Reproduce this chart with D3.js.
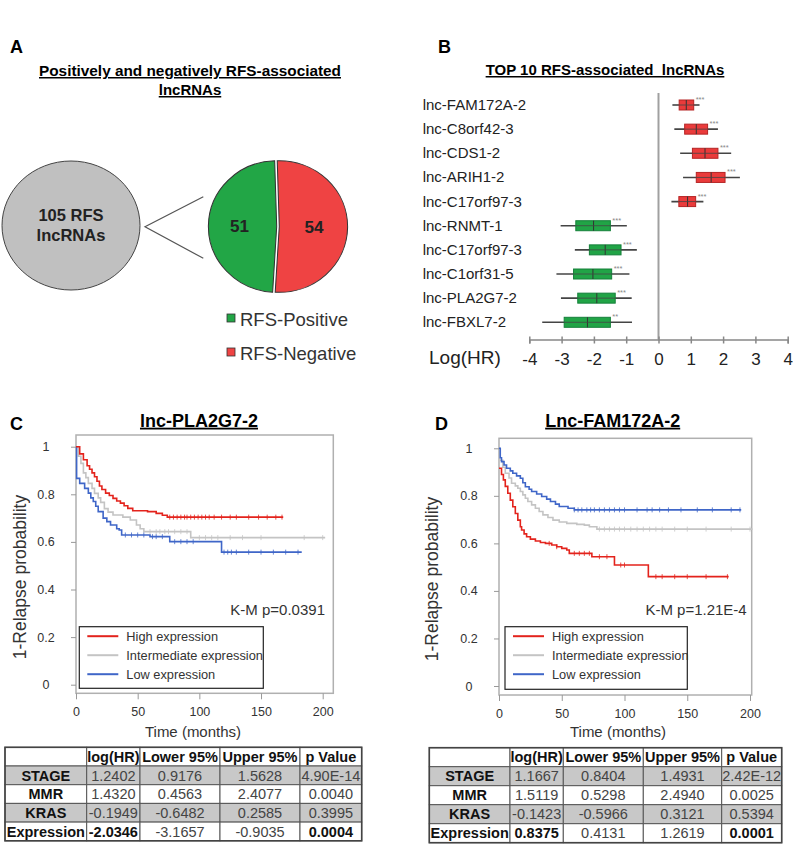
<!DOCTYPE html>
<html>
<head>
<meta charset="utf-8">
<script src="https://cdn.jsdelivr.net/npm/d3@7"></script>
<style>
  body { margin: 0; background: #fff; }
  svg { font-family: "Liberation Sans", Arial, sans-serif; }
</style>
</head>
<body>
<script>
// ---- panel A data
const pieLabels = ["RFS-Negative", "RFS-Positive"];
const pieValues = [54, 51];
const pieColors = ["#ef4343", "#22a646"];
const totalLabel = ["105 RFS", "lncRNAs"];

// ---- panel B data (log HR box summaries)
const bNames = ["lnc-FAM172A-2", "lnc-C8orf42-3", "lnc-CDS1-2", "lnc-ARIH1-2", "lnc-C17orf97-3",
                "lnc-RNMT-1", "lnc-C17orf97-3", "lnc-C1orf31-5", "lnc-PLA2G7-2", "lnc-FBXL7-2"];
const bMedian  = [0.86, 1.17, 1.44, 1.63, 0.90, -2.01, -1.65, -2.03, -1.91, -2.20];
const bBoxLo   = [0.64, 0.81, 1.05, 1.17, 0.63, -2.56, -2.14, -2.63, -2.50, -2.92];
const bBoxHi   = [1.09, 1.52, 1.84, 2.06, 1.15, -1.49, -1.16, -1.45, -1.34, -1.49];
const bWhiskLo = [0.43, 0.49, 0.67, 0.76, 0.40, -3.03, -2.59, -3.16, -3.02, -3.60];
const bWhiskHi = [1.27, 1.84, 2.25, 2.52, 1.39, -0.98, -0.67, -0.90, -0.83, -0.82];
const bStars   = ["***", "***", "***", "***", "***", "***", "***", "***", "***", "**"];
const bTicks   = [-4, -3, -2, -1, 0, 1, 2, 3, 4];

// ---- panel C / D Kaplan-Meier steps: [months, probability]
const kmTicksX = [0, 50, 100, 150, 200];
const kmTicksY = [0, 0.2, 0.4, 0.6, 0.8, 1];
const seriesNames = ["High expression", "Intermediate expression", "Low expression"];
const seriesColors = ["#e3231c", "#c4c4c4", "#3f66c8"];

const cHigh = [[0,1],[3,0.97],[6,0.945],[9,0.92],[11,0.905],[13,0.89],[15,0.874],[17,0.855],[19,0.835],[21,0.82],[24,0.805],[27,0.795],[30,0.783],[33,0.772],[36,0.763],[39,0.752],[42,0.741],[46,0.731],[58,0.727],[65,0.72],[70,0.712],[74,0.704]];
const cMid  = [[0,1],[2,0.96],[4,0.93],[6,0.89],[8,0.87],[10,0.846],[13,0.825],[15,0.804],[18,0.785],[20,0.766],[23,0.74],[26,0.725],[30,0.713],[38,0.704],[44,0.692],[49,0.671],[52,0.655],[55,0.643],[93,0.618]];
const cLow  = [[0,1],[0.5,0.867],[3,0.846],[7,0.825],[10,0.805],[12,0.785],[14,0.77],[16,0.75],[18,0.727],[22,0.70],[25,0.685],[28,0.671],[33,0.655],[35,0.65],[37,0.629],[60,0.622],[76,0.601],[118,0.557]];
const cEnd  = [168, 202, 183];
const cCensHigh = [76,79,82,85,88,90,93,96,99,102,105,108,112,118,125,130,140,148,155,162,167];
const cCensMid  = [60,65,68,72,75,80,85,90,100,105,110,115,125,135,150,185,200];
const cCensLow  = [40,45,50,55,62,65,70,80,85,90,95,120,123,126,130,140,150,160,170,180];

const dHigh = [[0,0.916],[2,0.89],[3.5,0.867],[5,0.84],[7,0.811],[9,0.782],[11,0.754],[13,0.726],[15,0.698],[17,0.67],[18,0.656],[20,0.64],[22,0.628],[25,0.618],[29,0.61],[33,0.604],[37,0.6],[42,0.593],[46,0.586],[50,0.579],[54,0.572],[56,0.558],[74,0.544],[92,0.509],[119,0.46]];
const dMid  = [[0,0.95],[3,0.92],[5,0.895],[8,0.875],[10,0.853],[13,0.842],[15,0.832],[17,0.818],[19,0.804],[21,0.79],[23,0.776],[26,0.762],[29,0.748],[32,0.734],[35,0.72],[39,0.709],[43,0.698],[48,0.69],[54,0.684],[62,0.68],[68,0.677],[72,0.67],[78,0.66]];
const dLow  = [[0,1],[1,0.96],[2,0.944],[4,0.93],[6,0.916],[9,0.905],[11,0.895],[14,0.884],[17,0.874],[19,0.855],[21,0.838],[24,0.828],[26,0.818],[30,0.808],[34,0.797],[38,0.786],[41,0.776],[45,0.765],[48,0.755],[55,0.748],[60,0.741]];
const dEnd  = [183, 202, 193];
const dCensHigh = [40,46,60,64,68,72,80,86,97,100,125,130,140,150,165,182];
const dCensMid  = [80,84,88,92,96,100,105,110,115,120,125,130,140,150,165,185,200];
const dCensLow  = [60,63,66,70,73,76,80,84,88,92,96,100,110,118,122,128,135,145,158,170,185,192];

// ---- tables
const tableHeader = ["", "log(HR)", "Lower 95%", "Upper 95%", "p Value"];
const tableRows = ["STAGE", "MMR", "KRAS", "Expression"];
const tableC = [["1.2402","0.9176","1.5628","4.90E-14"],
                ["1.4320","0.4563","2.4077","0.0040"],
                ["-0.1949","-0.6482","0.2585","0.3995"],
                ["-2.0346","-3.1657","-0.9035","0.0004"]];
const tableD = [["1.1667","0.8404","1.4931","2.42E-12"],
                ["1.5119","0.5298","2.4940","0.0025"],
                ["-0.1423","-0.5966","0.3121","0.5394"],
                ["0.8375","0.4131","1.2619","0.0001"]];

const svg = d3.select("body").append("svg")
    .attr("width", 793).attr("height", 849);

// panel letters
[["A", 10, 53], ["B", 438, 53], ["C", 10, 430], ["D", 435, 430]].forEach(function(l) {
    svg.append("text").attr("x", l[1]).attr("y", l[2]).text(l[0])
        .attr("font-size", 18).attr("font-weight", "bold");
});

// ================= Panel A =================
const gA = svg.append("g");
gA.append("text").attr("x", 190).attr("y", 76).attr("text-anchor", "middle")
    .attr("font-size", 15).attr("font-weight", "bold").attr("text-decoration", "underline")
    .attr("textLength", 302).attr("lengthAdjust", "spacingAndGlyphs")
    .text("Positively and negatively RFS-associated");
gA.append("text").attr("x", 190).attr("y", 95).attr("text-anchor", "middle")
    .attr("font-size", 15).attr("font-weight", "bold").attr("text-decoration", "underline")
    .text("lncRNAs");

gA.append("ellipse").attr("cx", 71).attr("cy", 225.5).attr("rx", 69).attr("ry", 64.5)
    .attr("fill", "#c0c0c0").attr("stroke", "#444").attr("stroke-width", 1);
totalLabel.forEach(function(t, i) {
    gA.append("text").attr("x", 71).attr("y", 221 + i * 20).attr("text-anchor", "middle")
        .attr("font-size", 16.5).attr("font-weight", "bold").attr("fill", "#222").text(t);
});
gA.append("path").attr("d", "M203.3,196.7L145,226.7L203.3,258.3")
    .attr("fill", "none").attr("stroke", "#555").attr("stroke-width", 1.2);

const pieR = 66;
const gPie = gA.append("g").attr("transform", "translate(276.7,226.5) scale(1.035,0.997)");
const pie = d3.pie().sort(null).startAngle(-0.03).endAngle(2 * Math.PI - 0.03);
const arc = d3.arc().innerRadius(0).outerRadius(pieR);
const labelArc = d3.arc().innerRadius(36).outerRadius(36);
const arcs = pie(pieValues);
gPie.selectAll("path.slice").data(arcs).join("path")
    .attr("class", "slice")
    .attr("d", arc)
    .attr("transform", function(d, i) {
        if (i !== 0) return null;
        const c = arc.centroid(d), len = Math.hypot(c[0], c[1]);
        return "translate(" + (c[0] / len * 2.5) + "," + (c[1] / len * 2.5) + ")";
    })
    .attr("fill", function(d, i) { return pieColors[i]; })
    .attr("stroke", "#333").attr("stroke-width", 1);
gPie.selectAll("text.val").data(arcs).join("text")
    .attr("class", "val")
    .attr("x", function(d) { return labelArc.centroid(d)[0]; })
    .attr("y", function(d) { return labelArc.centroid(d)[1]; })
    .attr("dy", "0.35em").attr("text-anchor", "middle")
    .attr("font-size", 16.5).attr("font-weight", "bold").attr("fill", "#222")
    .text(function(d) { return d.data; });

// legend (positive first)
[1, 0].forEach(function(idx, k) {
    const y = 318 + k * 34;
    gA.append("rect").attr("x", 227).attr("y", y - 4).attr("width", 8).attr("height", 8)
        .attr("fill", pieColors[idx]).attr("stroke", "#333").attr("stroke-width", 0.8);
    gA.append("text").attr("x", 240).attr("y", y + 8).attr("font-size", 18.5).attr("fill", "#333")
        .text(pieLabels[idx]);
});

// ================= Panel B =================
const gB = svg.append("g");
gB.append("text").attr("x", 605).attr("y", 75).attr("text-anchor", "middle")
    .attr("font-size", 15).attr("font-weight", "bold").attr("text-decoration", "underline")
    .attr("xml:space", "preserve")
    .text("TOP 10 RFS-associated  lncRNAs");

const xB = d3.scaleLinear().domain([-4, 4]).range([529.3, 787.7]);
const yB = d3.scalePoint().domain(d3.range(bNames.length)).range([105, 322.3]);
const axisY = 339.5;

gB.append("line").attr("x1", xB(0)).attr("x2", xB(0)).attr("y1", 93).attr("y2", axisY)
    .attr("stroke", "#a0a0a0").attr("stroke-width", 2);

const gAx = gB.append("g").attr("transform", "translate(0," + axisY + ")")
    .call(d3.axisBottom(xB).tickValues(bTicks).tickSize(4).tickFormat(d3.format("d")));
gAx.select(".domain").attr("stroke", "#888").attr("stroke-width", 1.5);
gAx.selectAll(".tick line").attr("y1", -3).attr("stroke", "#888").attr("stroke-width", 1.5);
gAx.selectAll(".tick text").attr("y", 25).attr("dy", 0).attr("font-size", 17)
    .attr("font-family", "Liberation Sans, Arial, sans-serif").attr("fill", "#222")
    .text(function(d) { return d < 0 ? "-" + Math.abs(d) : d; });
gB.append("text").attr("x", 429).attr("y", 364).attr("font-size", 19).attr("fill", "#222").text("Log(HR)");

const rows = gB.selectAll("g.row").data(d3.range(bNames.length)).join("g").attr("class", "row");
rows.append("text").attr("x", 422.7).attr("y", function(i) { return yB(i) + 5; })
    .attr("font-size", 15).attr("fill", "#222").text(function(i) { return bNames[i]; });
rows.append("line")
    .attr("x1", function(i) { return xB(bWhiskLo[i]); })
    .attr("x2", function(i) { return xB(bWhiskHi[i]); })
    .attr("y1", function(i) { return yB(i); }).attr("y2", function(i) { return yB(i); })
    .attr("stroke", "#444").attr("stroke-width", 1.6);
rows.append("rect")
    .attr("x", function(i) { return xB(bBoxLo[i]); })
    .attr("width", function(i) { return xB(bBoxHi[i]) - xB(bBoxLo[i]); })
    .attr("y", function(i) { return yB(i) - 5; }).attr("height", 10)
    .attr("fill", function(i) { return bMedian[i] > 0 ? "#ea3b3b" : "#21a446"; })
    .attr("stroke", function(i) { return bMedian[i] > 0 ? "#b52424" : "#15803a"; })
    .attr("stroke-width", 1);
rows.append("line")
    .attr("x1", function(i) { return xB(bMedian[i]); }).attr("x2", function(i) { return xB(bMedian[i]); })
    .attr("y1", function(i) { return yB(i) - 5; }).attr("y2", function(i) { return yB(i) + 5; })
    .attr("stroke", "#333").attr("stroke-width", 1);
rows.append("line")
    .attr("x1", function(i) { return xB(bBoxLo[i]); }).attr("x2", function(i) { return xB(bBoxHi[i]); })
    .attr("y1", function(i) { return yB(i); }).attr("y2", function(i) { return yB(i); })
    .attr("stroke", "#444").attr("stroke-width", 0.8);
rows.append("text")
    .attr("x", function(i) { return xB(bBoxHi[i]) + 2; })
    .attr("y", function(i) { return yB(i) - 3; })
    .attr("font-size", 7.5).attr("fill", "#888").text(function(i) { return bStars[i]; });

// ================= Panels C, D (Kaplan-Meier) =================
function stepValue(steps, t) {
    let v = steps[0][1];
    steps.forEach(function(s) { if (s[0] <= t) v = s[1]; });
    return v;
}

function drawKM(o) {
    const g = svg.append("g");
    const x = d3.scaleLinear().domain([0, 200]).range(o.xr);
    const y = d3.scaleLinear().domain([0, 1]).range(o.yr);

    g.append("text").attr("x", o.titleX).attr("y", 426.7).attr("text-anchor", "middle")
        .attr("font-size", 18).attr("font-weight", "bold").attr("text-decoration", "underline")
        .text(o.title);

    g.append("rect").attr("x", o.box[0]).attr("y", o.box[1])
        .attr("width", o.box[2] - o.box[0]).attr("height", o.box[3] - o.box[1])
        .attr("fill", "none").attr("stroke", "#b0b0b0").attr("stroke-width", 1.5);

    const ay = g.append("g").attr("transform", "translate(" + o.box[0] + ",0)")
        .call(d3.axisLeft(y).tickValues(kmTicksY).tickSize(5).tickFormat(function(d) { return d === 0 || d === 1 ? d : d3.format(".1f")(d); }));
    ay.select(".domain").remove();
    ay.selectAll(".tick line").attr("stroke", "#999");
    ay.selectAll(".tick text").attr("x", -30).attr("text-anchor", "middle").attr("font-size", 12.5)
        .attr("font-family", "Liberation Sans, Arial, sans-serif").attr("fill", "#333");

    const ax = g.append("g").attr("transform", "translate(0," + o.box[3] + ")")
        .call(d3.axisBottom(x).tickValues(kmTicksX).tickSize(6));
    ax.select(".domain").remove();
    ax.selectAll(".tick line").attr("stroke", "#999");
    ax.selectAll(".tick text").attr("y", 23).attr("dy", 0).attr("font-size", 12.5)
        .attr("font-family", "Liberation Sans, Arial, sans-serif").attr("fill", "#333");

    g.append("text").attr("x", o.timeX).attr("y", 736.7).attr("text-anchor", "middle")
        .attr("font-size", 15).attr("fill", "#333").text("Time (months)");
    g.append("text").attr("transform", "translate(" + o.ylabX + "," + o.ylabY + ") rotate(-90)")
        .attr("text-anchor", "middle").attr("dy", "0.35em")
        .attr("font-size", 17.5).attr("fill", "#333").text("1-Relapse probability");

    const line = d3.line().curve(d3.curveStepAfter)
        .x(function(d) { return x(d[0]); }).y(function(d) { return y(d[1]); });
    // draw grey, blue, red so red sits on top
    [1, 2, 0].forEach(function(k) {
        const steps = o.series[k];
        const pts = steps.concat([[o.ends[k], steps[steps.length - 1][1]]]);
        g.append("path").attr("d", line(pts)).attr("fill", "none")
            .attr("stroke", seriesColors[k]).attr("stroke-width", 1.6);
        g.selectAll(null).data(o.cens[k]).join("line")
            .attr("x1", function(t) { return x(t); }).attr("x2", function(t) { return x(t); })
            .attr("y1", function(t) { return y(stepValue(steps, t)) - 2.5; })
            .attr("y2", function(t) { return y(stepValue(steps, t)) + 2.5; })
            .attr("stroke", seriesColors[k]).attr("stroke-width", 0.8);
    });

    g.append("text").attr("x", o.kmX).attr("y", 615).attr("text-anchor", "end")
        .attr("font-size", 15).attr("fill", "#333").text(o.km);

    g.append("rect").attr("x", o.leg[0]).attr("y", o.leg[1])
        .attr("width", o.leg[2] - o.leg[0]).attr("height", o.leg[3] - o.leg[1])
        .attr("fill", "#fff").attr("stroke", "#222").attr("stroke-width", 1.2);
    seriesNames.forEach(function(n, k) {
        const yy = o.leg[1] + 9.5 + k * 19;
        g.append("line").attr("x1", o.leg[0] + 8).attr("x2", o.leg[0] + 39)
            .attr("y1", yy).attr("y2", yy).attr("stroke", seriesColors[k]).attr("stroke-width", 2);
        g.append("text").attr("x", o.leg[0] + 47).attr("y", yy + 4.5)
            .attr("font-size", 12.8).attr("fill", "#333").text(n);
    });
}

drawKM({
    title: "lnc-PLA2G7-2", titleX: 199,
    xr: [76, 322.7], yr: [684.7, 446.7], box: [76, 435, 333.3, 693.3],
    series: [cHigh, cMid, cLow], ends: cEnd, cens: [cCensHigh, cCensMid, cCensLow],
    km: "K-M p=0.0391", kmX: 325, leg: [79.3, 626.7, 263.3, 688.3],
    timeX: 193, ylabX: 20, ylabY: 577
});
drawKM({
    title: "Lnc-FAM172A-2", titleX: 612.7,
    xr: [499, 750], yr: [686, 448.3], box: [499, 438.3, 751.7, 695],
    series: [dHigh, dMid, dLow], ends: dEnd, cens: [dCensHigh, dCensMid, dCensLow],
    km: "K-M p=1.21E-4", kmX: 746.7, leg: [505, 626.7, 687.3, 689.3],
    timeX: 618, ylabX: 432, ylabY: 579
});

// ================= Tables =================
function drawTable(cols, top, rowH, values) {
    const g = svg.append("g");
    const allRows = [tableHeader].concat(tableRows.map(function(r, i) { return [r].concat(values[i]); }));
    allRows.forEach(function(r, ri) {
        const y0 = top + ri * rowH;
        r.forEach(function(cell, ci) {
            const shaded = (ri === 1 || ri === 3);
            g.append("rect").attr("x", cols[ci]).attr("y", y0)
                .attr("width", cols[ci + 1] - cols[ci]).attr("height", rowH)
                .attr("fill", shaded ? "#c8c8c8" : "#fff")
                .attr("stroke", "#555").attr("stroke-width", 1);
            const bold = ri === 0 || ci === 0 || (ri === 4 && (ci === 1 || ci === 4));
            g.append("text").attr("x", (cols[ci] + cols[ci + 1]) / 2).attr("y", y0 + rowH / 2)
                .attr("dy", "0.36em").attr("text-anchor", "middle")
                .attr("font-size", 14.5).attr("font-weight", bold ? "bold" : "normal")
                .attr("fill", bold ? "#111" : "#444").text(cell);
        });
    });
    g.append("rect").attr("x", cols[0]).attr("y", top)
        .attr("width", cols[cols.length - 1] - cols[0]).attr("height", rowH * allRows.length)
        .attr("fill", "none").attr("stroke", "#444").attr("stroke-width", 1.6);
}
drawTable([5, 86.7, 140, 220, 300, 361.7], 747.3, 18.7, tableC);
drawTable([429.3, 510, 563.3, 643.3, 721.7, 781.7], 747.7, 19, tableD);
</script>
</body>
</html>
